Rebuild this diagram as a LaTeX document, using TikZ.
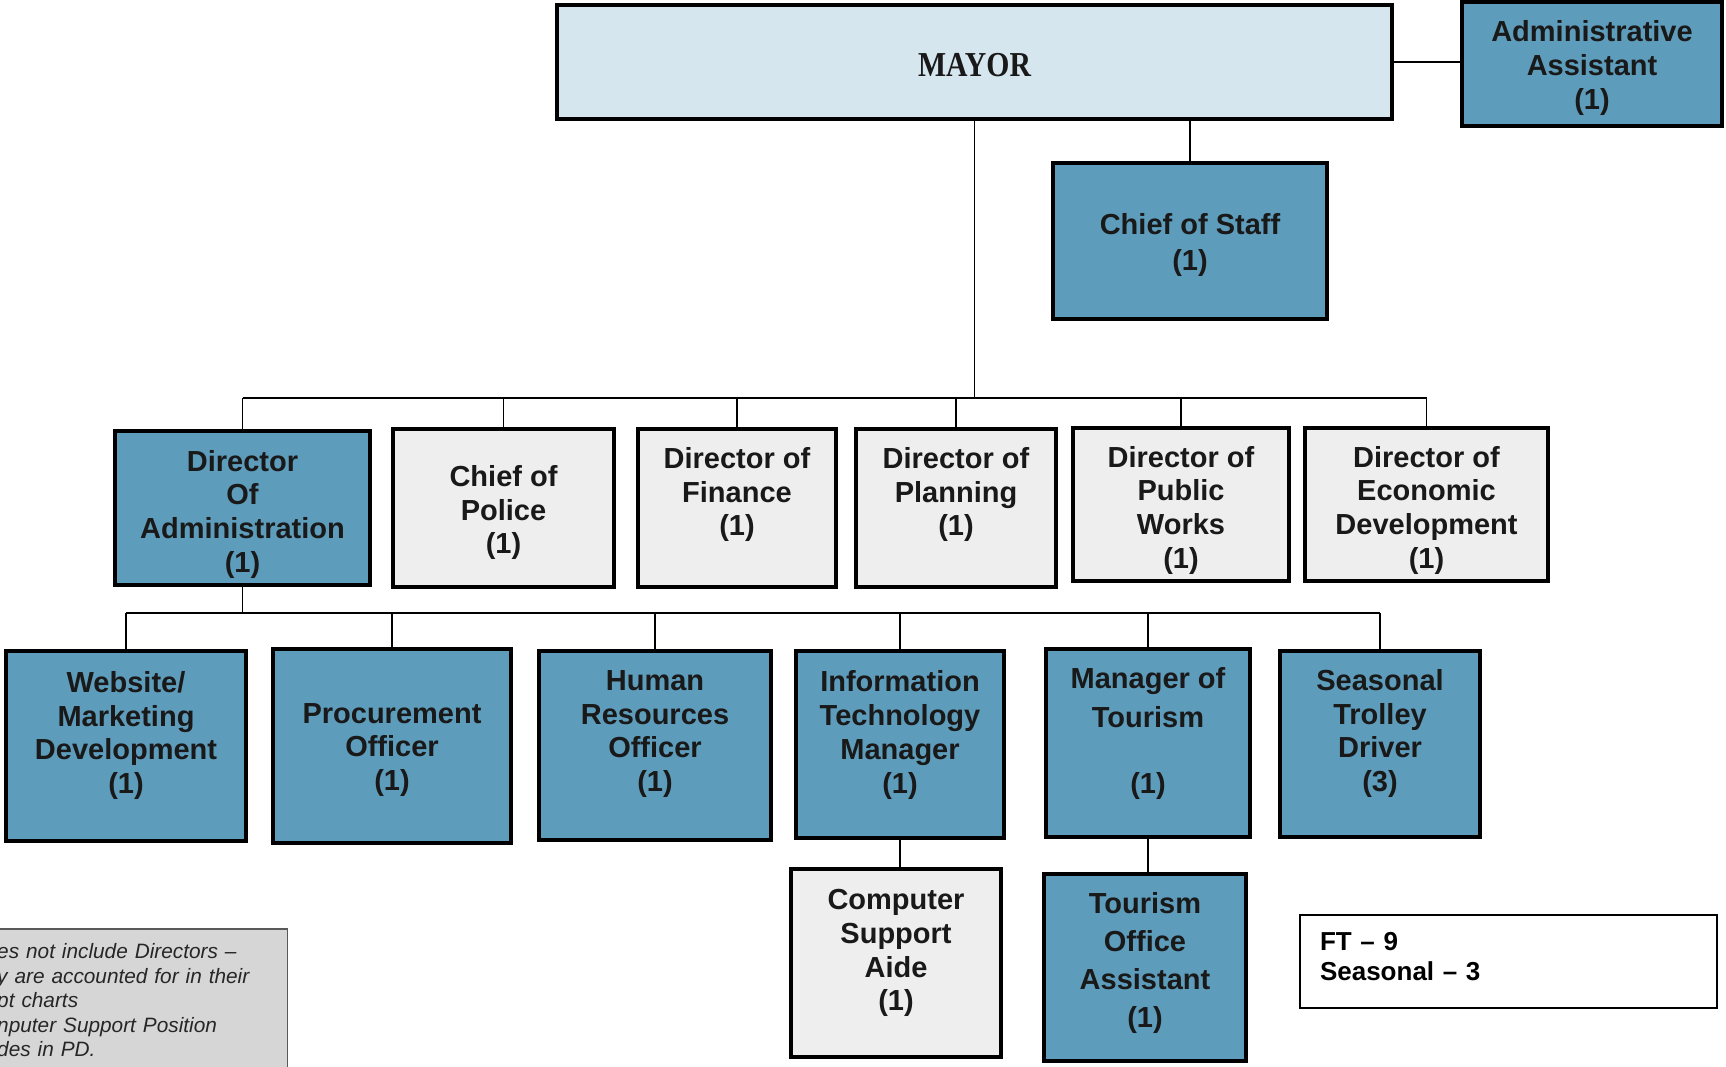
\documentclass[tikz,border=0pt]{standalone}
\usepackage{fontspec}
\setmainfont{Liberation Sans}
\newfontfamily\mayorfont[FakeStretch=0.85]{Liberation Serif}
\usepackage{tikz}

\definecolor{posblue}{RGB}{94,156,187}
\definecolor{mayorblue}{RGB}{214,230,238}
\definecolor{vacgray}{RGB}{238,238,238}
\definecolor{notegray}{RGB}{214,214,214}

\begin{document}
\begin{tikzpicture}[x=1pt, y=-1pt,
    post/.style={draw=black, line width=4pt, align=center, inner sep=0pt,
        font=\bfseries\fontsize{29}{33.8}\selectfont, text=black!90},
    bluepost/.style={post, fill=posblue},
    greypost/.style={post, fill=vacgray},
    link/.style={line width=1.6pt}]
    % page
    \fill[white] (0,0) rectangle (1726,1067);
    \useasboundingbox (0,0) rectangle (1726,1067);

    % top level
    \node[post, fill=mayorblue, minimum width=835, minimum height=114, text height=30,
        font=\mayorfont\bfseries\fontsize{35}{35}\selectfont] (mayor) at (974.5,62) {MAYOR};
    \node[bluepost, minimum width=260, minimum height=124, text height=97,
        font=\bfseries\fontsize{29}{34}\selectfont] (aast) at (1592,64) {Administrative\\Assistant\\(1)};
    \node[bluepost, minimum width=274, minimum height=156, text height=66,
        font=\bfseries\fontsize{29}{36}\selectfont] (cos) at (1190,241) {Chief of Staff\\(1)};

    % directors
    \node[bluepost, minimum width=255, minimum height=154, text height=135] (dadm) at (242.5,508) {Director\\Of\\Administration\\(1)};
    \node[greypost, minimum width=221, minimum height=158, text height=98] (cpol) at (503.5,508) {Chief of\\Police\\(1)};
    \node[greypost, minimum width=198, minimum height=158, text depth=33] (dfin) at (737,508) {Director of\\Finance\\(1)};
    \node[greypost, minimum width=200, minimum height=158, text depth=33] (dpln) at (956,508) {Director of\\Planning\\(1)};
    \node[greypost, minimum width=216, minimum height=153, text height=134] (dpw) at (1181,504.5) {Director of\\Public\\Works\\(1)};
    \node[greypost, minimum width=243, minimum height=153, text height=134] (decd) at (1426.5,504.5) {Director of\\Economic\\Development\\(1)};

    % administration staff
    \node[bluepost, minimum width=240, minimum height=190, text depth=27] (web) at (126,746) {Website/\\Marketing\\Development\\(1)};
    \node[bluepost, minimum width=238, minimum height=194, text height=95.5] (proc) at (392,746) {Procurement\\Officer\\(1)};
    \node[bluepost, minimum width=232, minimum height=189, text depth=29] (hr) at (655,745.5) {Human\\Resources\\Officer\\(1)};
    \node[bluepost, minimum width=208, minimum height=187, text depth=25] (itm) at (900,744.5) {Information\\Technology\\Manager\\(1)};
    \node[bluepost, minimum width=204, minimum height=188, text depth=25] (mot) at (1148,743) {Manager of\\[5pt]Tourism\\[32pt](1)};
    \node[bluepost, minimum width=200, minimum height=186, text depth=27] (stro) at (1380,744) {Seasonal\\Trolley\\Driver\\(3)};

    \node[greypost, minimum width=210, minimum height=188, text depth=26] (csa) at (896,963) {Computer\\Support\\Aide\\(1)};
    \node[bluepost, minimum width=202, minimum height=187, text depth=15,
        font=\bfseries\fontsize{29}{38}\selectfont] (toa) at (1145,967.5) {Tourism\\Office\\Assistant\\(1)};

    % totals and note
    \node[draw=black, line width=2pt, minimum width=417, minimum height=93, text width=377,
        inner xsep=20, inner ysep=0pt, align=left, text depth=40,
        font=\bfseries\fontsize{26}{30}\selectfont] (totals) at (1508.5,961.5) {FT -- 9\\Seasonal -- 3};
    \node[draw=black!65, fill=notegray, line width=1.5pt, anchor=north east, text width=280,
        inner xsep=10, inner ysep=15, align=left, text=black!85,
        font=\itshape\fontsize{20.8}{24.5}\selectfont] (note) at (288,928)
        {es not include Directors --\\y are accounted for in their\\pt charts\\nputer Support Position\\des in PD.};

    % connectors
    \coordinate (busA) at (0,398);
    \coordinate (busB) at (0,613);
    \draw[link] (mayor.east) -- (mayor.east -| aast.west);
    \draw[link] (cos.north) -- (cos.north |- mayor.south);
    \draw[link] (mayor.south) -- (mayor.south |- busA);
    \draw[link] (dadm.north |- busA) -- (decd.north |- busA);
    \foreach \n in {dadm,cpol,dfin,dpln,dpw,decd}
        \draw[link] (\n.north) -- (\n.north |- busA);
    \draw[link] (dadm.south) -- (dadm.south |- busB);
    \draw[link] (web.north |- busB) -- (stro.north |- busB);
    \foreach \n in {web,proc,hr,itm,mot,stro}
        \draw[link] (\n.north) -- (\n.north |- busB);
    \draw[link] (itm.south) -- (itm.south |- csa.north);
    \draw[link] (mot.south) -- (mot.south |- toa.north);
\end{tikzpicture}
\end{document}
